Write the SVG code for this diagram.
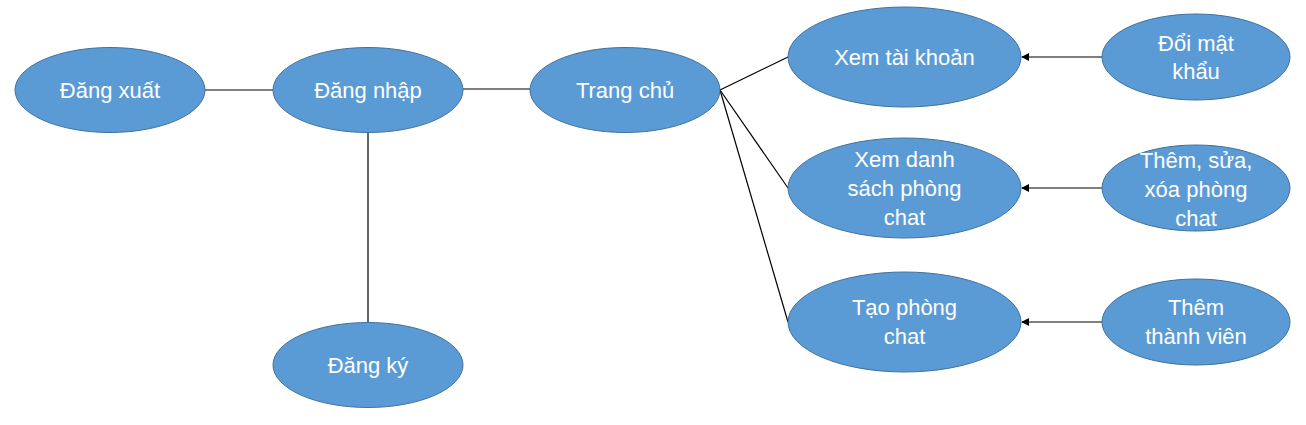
<svg xmlns="http://www.w3.org/2000/svg" width="1306" height="425" viewBox="0 0 1306 425">
<style>
.n ellipse{fill:#5B9BD5;stroke:#41719C;stroke-width:1}
.n text{fill:#fff;font-family:"Liberation Sans","Noto Sans",sans-serif;font-size:22px;text-anchor:middle}
.c line{stroke:#000;stroke-width:1.2}
</style>
<defs>
<marker id="ah" viewBox="0 0 10 10" refX="9" refY="5" markerWidth="8" markerHeight="8" orient="auto" markerUnits="userSpaceOnUse">
<path d="M0,0 L10,5 L0,10 z" fill="#000"/>
</marker>
</defs>
<rect width="1306" height="425" fill="#fff"/>
<g class="c">
<line x1="205" y1="90" x2="273" y2="90"/>
<line x1="463" y1="89" x2="530" y2="89"/>
<line x1="368" y1="133" x2="368" y2="323"/>
<line x1="720" y1="90" x2="788" y2="57"/>
<line x1="720" y1="90" x2="788" y2="188"/>
<line x1="720" y1="90" x2="788" y2="322"/>
<line x1="1102" y1="57" x2="1022" y2="57" marker-end="url(#ah)"/>
<line x1="1102" y1="188" x2="1022" y2="188" marker-end="url(#ah)"/>
<line x1="1102" y1="322" x2="1022" y2="322" marker-end="url(#ah)"/>
</g>
<g id="dang-xuat" class="n"><ellipse cx="110" cy="90" rx="95" ry="42.5"/><text x="110" y="98">Đăng xuất</text></g>
<g id="dang-nhap" class="n"><ellipse cx="368" cy="90" rx="95" ry="42.5"/><text x="368" y="98">Đăng nhập</text></g>
<g id="trang-chu" class="n"><ellipse cx="625" cy="90" rx="95" ry="42.5"/><text x="625" y="98">Trang chủ</text></g>
<g id="dang-ky" class="n"><ellipse cx="368" cy="365" rx="95" ry="42.5"/><text x="368" y="373">Đăng ký</text></g>
<g id="xem-tai-khoan" class="n"><ellipse cx="904.5" cy="57" rx="116.5" ry="50"/><text x="904.5" y="65">Xem tài khoản</text></g>
<g id="xem-danh-sach" class="n"><ellipse cx="904.5" cy="188" rx="116.5" ry="50"/><text x="904.5" y="167">Xem danh</text><text x="904.5" y="196">sách phòng</text><text x="904.5" y="225">chat</text></g>
<g id="tao-phong" class="n"><ellipse cx="904.5" cy="322" rx="116.5" ry="50"/><text x="904.5" y="315">Tạo phòng</text><text x="904.5" y="344">chat</text></g>
<g id="doi-mat-khau" class="n"><ellipse cx="1196" cy="57" rx="94" ry="43"/><text x="1196" y="51">Đổi mật</text><text x="1196" y="79">khẩu</text></g>
<g id="them-sua-xoa" class="n"><ellipse cx="1196" cy="188" rx="94" ry="43"/><text x="1196" y="168">Thêm, sửa,</text><text x="1196" y="197">xóa phòng</text><text x="1196" y="226">chat</text></g>
<g id="them-thanh-vien" class="n"><ellipse cx="1196" cy="322" rx="94" ry="43"/><text x="1196" y="315">Thêm</text><text x="1196" y="344">thành viên</text></g>
</svg>
